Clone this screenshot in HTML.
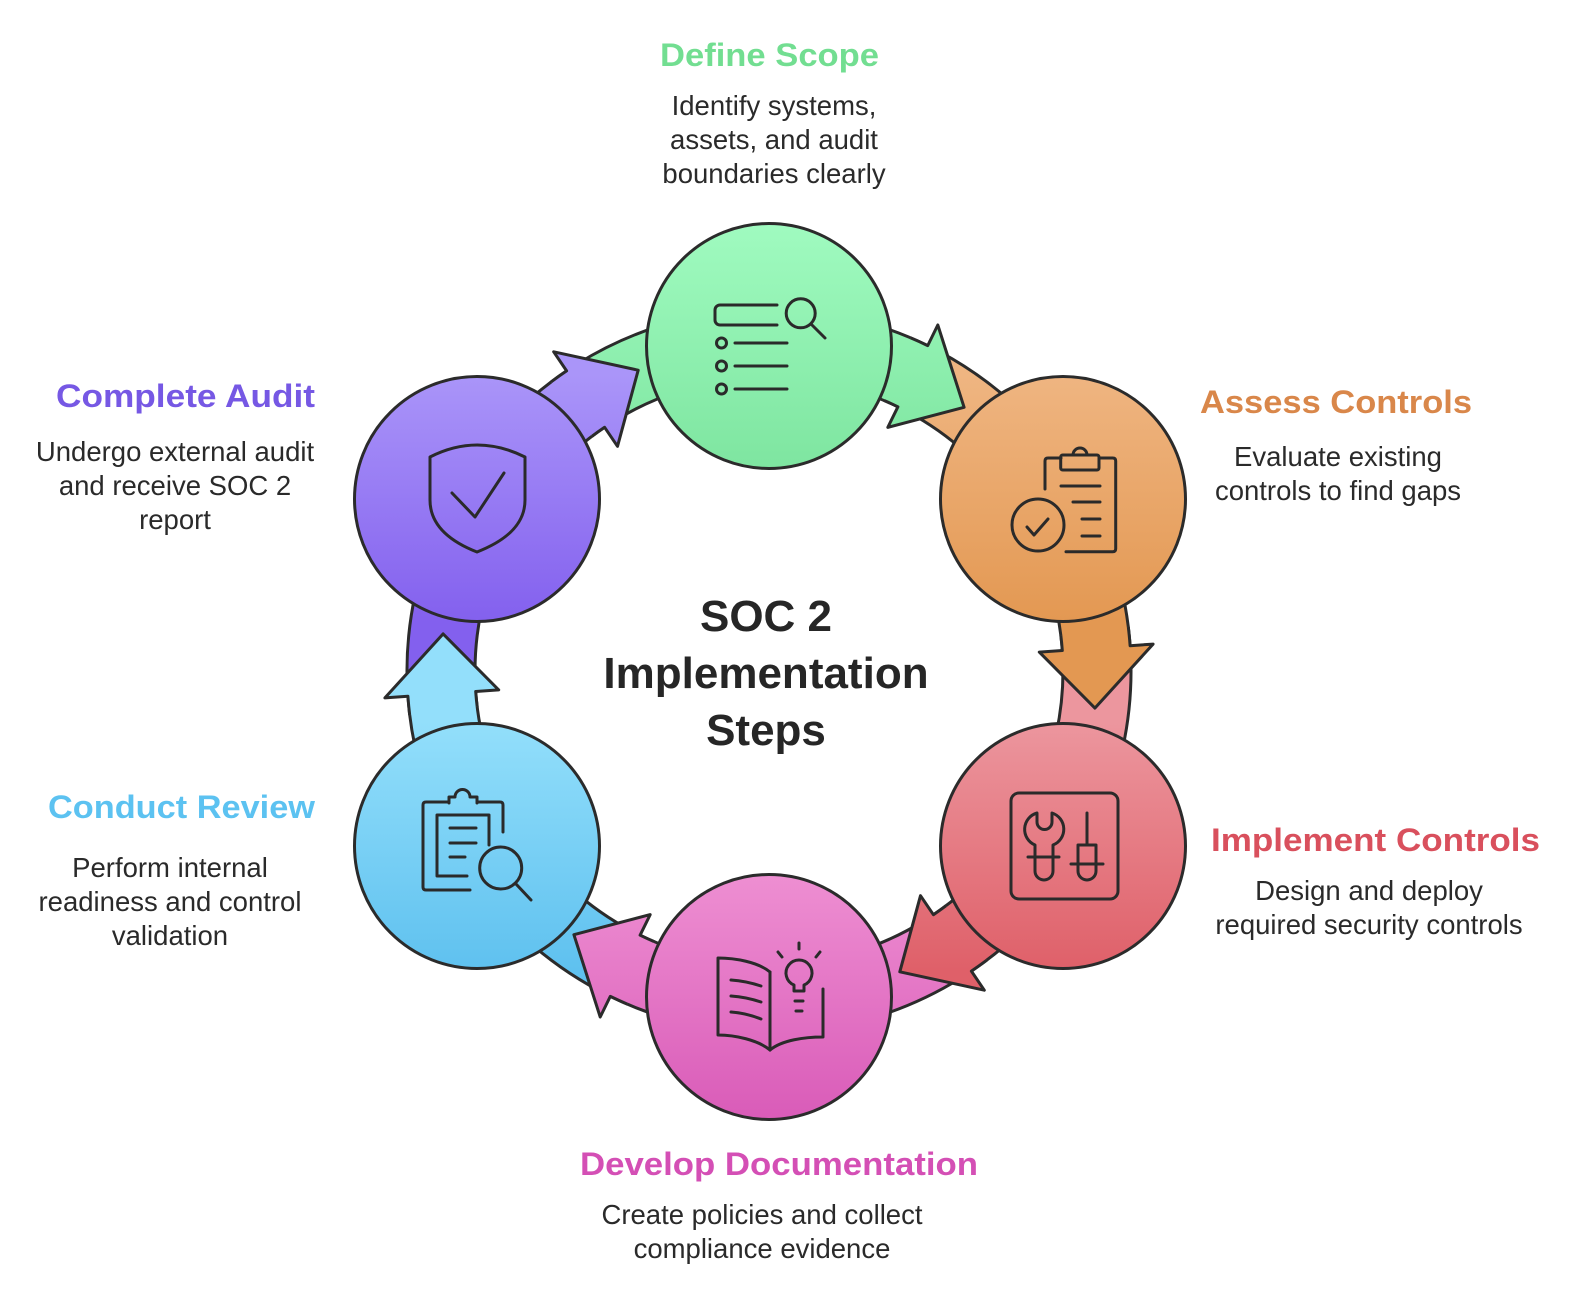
<!DOCTYPE html>
<html>
<head>
<meta charset="utf-8">
<style>
html,body{margin:0;padding:0;background:#ffffff;}
svg{display:block;}
text{font-family:"Liberation Sans",Arial,sans-serif;}
.t{font-weight:bold;font-size:32px;}
.d{font-size:27.5px;fill:#2a2a2a;}
.c{font-weight:bold;font-size:44px;fill:#262626;}
.ic{fill:none;stroke:#2a2a2a;stroke-width:3;stroke-linecap:round;stroke-linejoin:round;}
</style>
</head>
<body>
<svg width="1574" height="1300" viewBox="0 0 1574 1300" xmlns="http://www.w3.org/2000/svg">
<defs>
  <linearGradient id="gG" gradientUnits="userSpaceOnUse" x1="0" y1="222" x2="0" y2="470">
    <stop offset="0" stop-color="#A0FBC0"/><stop offset="1" stop-color="#7EE5A0"/>
  </linearGradient>
  <linearGradient id="gO" gradientUnits="userSpaceOnUse" x1="0" y1="375" x2="0" y2="623">
    <stop offset="0" stop-color="#EFB581"/><stop offset="1" stop-color="#E39852"/>
  </linearGradient>
  <linearGradient id="gR" gradientUnits="userSpaceOnUse" x1="0" y1="722" x2="0" y2="970">
    <stop offset="0" stop-color="#EC969E"/><stop offset="1" stop-color="#DF6069"/>
  </linearGradient>
  <linearGradient id="gP" gradientUnits="userSpaceOnUse" x1="0" y1="873" x2="0" y2="1121">
    <stop offset="0" stop-color="#EE8FD2"/><stop offset="1" stop-color="#D95BB8"/>
  </linearGradient>
  <linearGradient id="gB" gradientUnits="userSpaceOnUse" x1="0" y1="722" x2="0" y2="970">
    <stop offset="0" stop-color="#93DFFB"/><stop offset="1" stop-color="#5FC1EF"/>
  </linearGradient>
  <linearGradient id="gU" gradientUnits="userSpaceOnUse" x1="0" y1="375" x2="0" y2="623">
    <stop offset="0" stop-color="#AA95F9"/><stop offset="1" stop-color="#8360EE"/>
  </linearGradient>
</defs>

<g stroke="#2b2b2b" stroke-width="3" stroke-linejoin="round">
  <!-- band bodies -->
  <path fill="url(#gG)" d="M927.7,345.6 A362,362 0 0 0 577.2,364.0 L613.2,421.7 A294,294 0 0 1 897.9,406.8"/>
  <path fill="url(#gO)" d="M1130.1,645.7 A362,362 0 0 0 939.0,351.4 L907.0,411.4 A294,294 0 0 1 1062.3,650.5"/>
  <path fill="url(#gR)" d="M971.4,971.1 A362,362 0 0 0 1130.8,658.4 L1062.8,660.7 A294,294 0 0 1 933.4,914.7"/>
  <path fill="url(#gP)" d="M610.3,996.4 A362,362 0 0 0 960.8,978.0 L924.8,920.3 A294,294 0 0 1 640.1,935.2"/>
  <path fill="url(#gB)" d="M407.9,696.3 A362,362 0 0 0 599.0,990.6 L631.0,930.6 A294,294 0 0 1 475.7,691.5"/>
  <path fill="url(#gU)" d="M566.6,370.9 A362,362 0 0 0 407.2,683.6 L475.2,681.3 A294,294 0 0 1 604.6,427.3"/>

  <!-- arrow heads -->
  <path fill="url(#gG)" d="M910.4,337.8 A362,362 0 0 1 927.7,345.6 L937.8,325.0 L964.1,407.3 L887.8,427.4 L897.9,406.8 A294,294 0 0 0 883.9,400.4"/>
  <path fill="url(#gO)" d="M1128.3,626.9 A362,362 0 0 1 1130.1,645.7 L1153.1,644.1 L1094.9,708.1 L1039.3,652.1 L1062.3,650.5 A294,294 0 0 0 1060.8,635.2"/>
  <path fill="url(#gR)" d="M986.9,960.1 A362,362 0 0 1 971.4,971.1 L984.3,990.2 L899.8,971.8 L920.5,895.7 L933.4,914.7 A294,294 0 0 0 945.9,905.8"/>
  <path fill="url(#gP)" d="M627.6,1004.2 A362,362 0 0 1 610.3,996.4 L600.2,1017.0 L573.9,934.7 L650.2,914.6 L640.1,935.2 A294,294 0 0 0 654.1,941.6"/>
  <path fill="url(#gB)" d="M409.7,715.1 A362,362 0 0 1 407.9,696.3 L384.9,697.9 L443.1,633.9 L498.7,689.9 L475.7,691.5 A294,294 0 0 0 477.2,706.8"/>
  <path fill="url(#gU)" d="M551.1,381.9 A362,362 0 0 1 566.6,370.9 L553.7,351.8 L638.2,370.2 L617.5,446.3 L604.6,427.3 A294,294 0 0 0 592.1,436.2"/>

  <!-- circles -->
  <circle cx="769" cy="346" r="122.5" fill="url(#gG)"/>
  <circle cx="1063" cy="499" r="122.5" fill="url(#gO)"/>
  <circle cx="1063" cy="846" r="122.5" fill="url(#gR)"/>
  <circle cx="769" cy="997" r="122.5" fill="url(#gP)"/>
  <circle cx="477" cy="846" r="122.5" fill="url(#gB)"/>
  <circle cx="477" cy="499" r="122.5" fill="url(#gU)"/>
</g>

<!-- icons -->
<g class="ic">
  <!-- Define Scope -->
  <path d="M777,305 H720 A5,5 0 0 0 715,310 V320 A5,5 0 0 0 720,325 H777"/>
  <circle cx="800.7" cy="313.3" r="14.5"/>
  <path d="M811,324 L825,338"/>
  <circle cx="721.5" cy="343" r="5"/>
  <circle cx="721.5" cy="366" r="5"/>
  <circle cx="721.5" cy="389" r="5"/>
  <path d="M735,343 H787 M735,366 H787 M735,389 H787"/>

  <!-- Assess Controls -->
  <path d="M1045,489 V461 Q1045,458 1048,458 H1061 M1099,458 H1112.7 Q1115.7,458 1115.7,461 V548.7 Q1115.7,551.7 1112.7,551.7 H1066"/>
  <rect x="1060.7" y="455" width="38.3" height="15" rx="2"/>
  <path d="M1073,455 A7,7 0 0 1 1087,455"/>
  <path d="M1061,486 H1100 M1073,502 H1100 M1082,519 H1100 M1082,536 H1100"/>
  <circle cx="1038" cy="525" r="26"/>
  <path d="M1027,527 L1034,535 L1048,519"/>

  <!-- Implement Controls -->
  <rect x="1011" y="793" width="107" height="106" rx="8"/>
  <path d="M1037,813 V822 A7.5,7.5 0 0 0 1052,822 V813 A17,17 0 0 1 1053,845 V871 A9,9 0 0 1 1035,871 V845 A17,17 0 0 1 1037,813 Z"/>
  <path d="M1028,857 H1059"/>
  <path d="M1087,813 V845"/>
  <path d="M1078,845 H1096 V871 A9,9 0 0 1 1078,871 Z"/>
  <path d="M1071,864 H1103"/>

  <!-- Develop Documentation -->
  <path d="M770,972 C758,962 735,958 718,958 V1035 C735,1035 758,1040 770,1050"/>
  <path d="M770,972 V1050"/>
  <path d="M770,1050 C782,1040 805,1037 823,1037 V989"/>
  <path d="M731,980 Q746,981 761,986 M731,996 Q746,997 761,1002 M731,1012 Q746,1013 761,1019"/>
  <path d="M794,991 V985 A13,13 0 1 1 804,985 V991 Z"/>
  <path d="M795,1001 H803 M796,1011 H802"/>
  <path d="M799,943 V949 M778,952 L782,957 M820,952 L816,957"/>

  <!-- Conduct Review -->
  <path d="M470,890 H426 Q423,890 423,887 V805 Q423,802 426,802 H449 M477,802 H500 Q503,802 503,805 V832"/>
  <path d="M449,803 V797 H455 A7.5,7.5 0 0 1 470,797 H477 V803"/>
  <path d="M467,876 H437 V815 H489 V845"/>
  <path d="M450,828 H476 M450,843 H476 M450,857 H465"/>
  <circle cx="500.7" cy="868" r="21"/>
  <path d="M516,884 L531,900"/>

  <!-- Complete Audit -->
  <path d="M430,457 Q477,433 525,457 V500 C525,528 500,543 477,552 C454,543 430,528 430,500 Z"/>
  <path d="M452,493 L475,517 L504,473"/>
</g>

<!-- Titles -->
<text class="t" fill="#72DE91" x="769.5" y="66" text-anchor="middle" textLength="219" lengthAdjust="spacingAndGlyphs">Define Scope</text>
<text class="t" fill="#D9874A" x="1336" y="413" text-anchor="middle" textLength="272" lengthAdjust="spacingAndGlyphs">Assess Controls</text>
<text class="t" fill="#D9505D" x="1375.5" y="851" text-anchor="middle" textLength="329" lengthAdjust="spacingAndGlyphs">Implement Controls</text>
<text class="t" fill="#D44FB5" x="779" y="1175" text-anchor="middle" textLength="398" lengthAdjust="spacingAndGlyphs">Develop Documentation</text>
<text class="t" fill="#5CC2F1" x="181.5" y="818" text-anchor="middle" textLength="267" lengthAdjust="spacingAndGlyphs">Conduct Review</text>
<text class="t" fill="#7658E4" x="185.5" y="407" text-anchor="middle" textLength="259" lengthAdjust="spacingAndGlyphs">Complete Audit</text>

<!-- Descriptions -->
<g class="d" text-anchor="middle">
  <text x="774" y="115">Identify systems,</text>
  <text x="774" y="149">assets, and audit</text>
  <text x="774" y="183">boundaries clearly</text>

  <text x="1338" y="466">Evaluate existing</text>
  <text x="1338" y="500">controls to find gaps</text>

  <text x="1369" y="900">Design and deploy</text>
  <text x="1369" y="934">required security controls</text>

  <text x="762" y="1224">Create policies and collect</text>
  <text x="762" y="1258">compliance evidence</text>

  <text x="170" y="877">Perform internal</text>
  <text x="170" y="911">readiness and control</text>
  <text x="170" y="945">validation</text>

  <text x="175" y="461">Undergo external audit</text>
  <text x="175" y="495">and receive SOC 2</text>
  <text x="175" y="529">report</text>
</g>

<!-- Center title -->
<g class="c" text-anchor="middle">
  <text x="766" y="631">SOC 2</text>
  <text x="766" y="688">Implementation</text>
  <text x="766" y="745">Steps</text>
</g>
</svg>
</body>
</html>
